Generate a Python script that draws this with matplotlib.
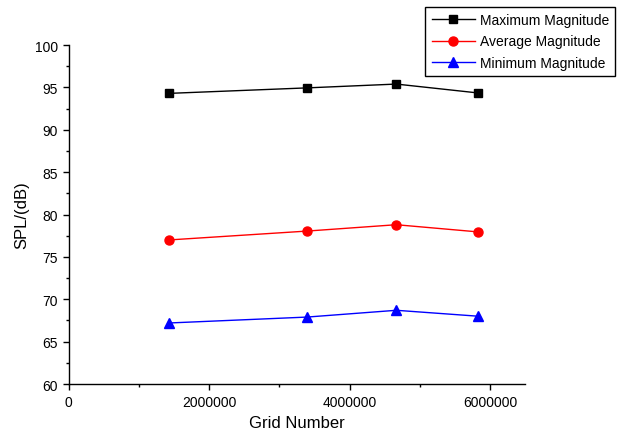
import matplotlib
matplotlib.use('Agg')
import matplotlib.pyplot as plt
from matplotlib.ticker import MultipleLocator

plt.rcParams['font.family'] = ['Liberation Sans', 'DejaVu Sans']

# data
grid_number = [1423000, 3394000, 4665000, 5832000]
max_mag = [94.3, 94.95, 95.4, 94.35]
avg_mag = [77.0, 78.05, 78.8, 77.95]
min_mag = [67.2, 67.9, 68.7, 68.0]

fig = plt.figure(figsize=(6.2, 4.39), dpi=100)
ax = fig.add_axes([0.111, 0.123, 0.736, 0.772])

ax.plot(grid_number, max_mag, color='black', marker='s', markersize=5.5, linewidth=1, label='Maximum Magnitude')
ax.plot(grid_number, avg_mag, color='red', marker='o', markersize=6.5, linewidth=1, label='Average Magnitude')
ax.plot(grid_number, min_mag, color='blue', marker='^', markersize=7, linewidth=1, label='Minimum Magnitude')

ax.set_xlim(0, 6500000)
ax.set_ylim(60, 100)
ax.xaxis.set_major_locator(MultipleLocator(2000000))
ax.xaxis.set_minor_locator(MultipleLocator(1000000))
ax.yaxis.set_major_locator(MultipleLocator(5))
ax.yaxis.set_minor_locator(MultipleLocator(2.5))
ax.ticklabel_format(axis='x', style='plain')

ax.spines['top'].set_visible(False)
ax.spines['right'].set_visible(False)
for s in ['left', 'bottom']:
    ax.spines[s].set_linewidth(1)
ax.tick_params(which='major', direction='out', length=4.5, width=1, labelsize=10)
ax.tick_params(which='minor', direction='out', length=2.5, width=1)

ax.set_xlabel('Grid Number', fontsize=12)
ax.set_ylabel('SPL/(dB)', fontsize=12)

fig.legend(loc='upper right', bbox_to_anchor=(0.992, 0.982), borderaxespad=0, fontsize=10,
           frameon=True, fancybox=False, edgecolor='black', framealpha=1,
           handlelength=3.1, handletextpad=0.35, borderpad=0.45, labelspacing=0.52)

fig.savefig('out.png', dpi=100)
